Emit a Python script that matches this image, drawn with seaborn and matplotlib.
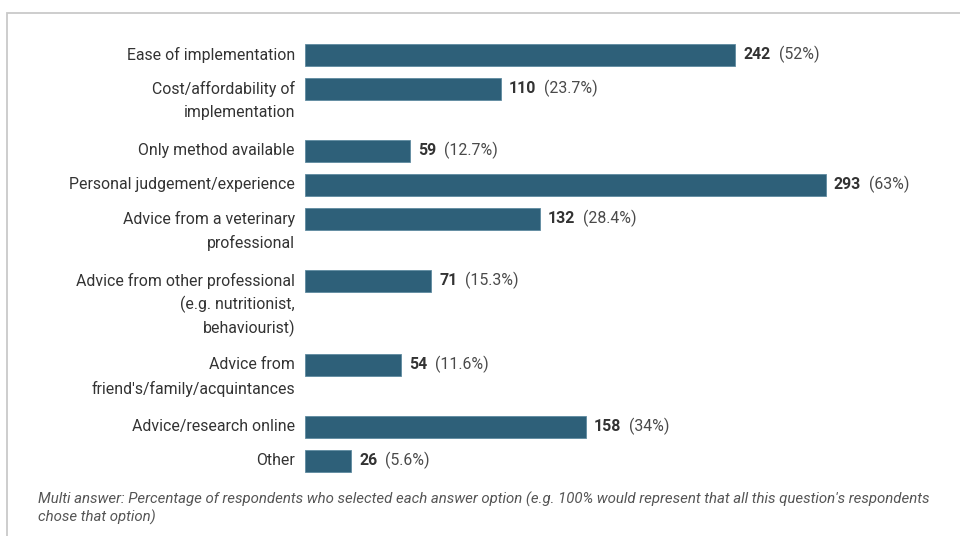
import matplotlib
matplotlib.use("Agg")
import matplotlib.pyplot as plt
from matplotlib.patches import Rectangle
import numpy as np
import seaborn as sns

# Survey answers (multi-answer question)
labels = [
    "Ease of implementation",
    "Cost/affordability of\nimplementation",
    "Only method available",
    "Personal judgement/experience",
    "Advice from a veterinary\nprofessional",
    "Advice from other professional\n(e.g. nutritionist,\nbehaviourist)",
    "Advice from\nfriend's/family/acquintances",
    "Advice/research online",
    "Other",
]
counts = [242, 110, 59, 293, 132, 71, 54, 158, 26]
percents = [52, 23.7, 12.7, 63, 28.4, 15.3, 11.6, 34, 5.6]

footnote = ("Multi answer: Percentage of respondents who selected each answer option "
            "(e.g. 100% would represent that all this question's respondents\n"
            "chose that option)")

BAR_COLOR = "#2e6079"
LABEL_COLOR = "#333333"
PCT_COLOR = "#4a4a4a"
FONT = "Roboto"

sns.set_theme(style="white")
plt.rcParams["font.family"] = [FONT, "DejaVu Sans"]

W, H, DPI = 960, 536, 100
fig = plt.figure(figsize=(W / DPI, H / DPI), dpi=DPI)
fig.patch.set_facecolor("white")

# Card outline
fig.add_artist(Rectangle((7 / W, -0.1), 1.2, (H - 13) / H + 0.1,
                         transform=fig.transFigure, fill=False,
                         edgecolor="#c9c9c9", linewidth=1.3))

# Plot area: vertical coordinates in pixels from the top
bar_left, bar_right = 305, 930
px_per_unit = (826 - 305) / 293
ax = fig.add_axes([bar_left / W, 0, (bar_right - bar_left) / W, 1])

# Row positions depend on how many lines each label wraps onto
row_step = {1: 34, 2: 62, 3: 84}
n_lines = [lab.count("\n") + 1 for lab in labels]
ypos = [54.5]
for n in n_lines[:-1]:
    ypos.append(ypos[-1] + row_step[n])
ypos = np.array(ypos)

bar_px = 22
min_gap = np.min(np.diff(np.sort(ypos)))
sns.barplot(x=counts, y=ypos, orient="h", native_scale=True,
            width=bar_px / min_gap, color=BAR_COLOR, saturation=1,
            edgecolor="#5f8aa0", linewidth=0.6, ax=ax)

ax.set_xlim(0, (bar_right - bar_left) / px_per_unit)
ax.set_ylim(H, 0)
ax.axis("off")

# Category labels, one text per wrapped line
line_px = 24
for lab, y in zip(labels, ypos):
    for i, line in enumerate(lab.split("\n")):
        ax.annotate(line, xy=(0, y + i * line_px), xytext=(-10 * 72 / DPI, 0),
                    textcoords="offset points", ha="right", va="center",
                    fontsize=11.4, color=LABEL_COLOR, annotation_clip=False)

# Value labels: bold count followed by the percentage
fig.canvas.draw()
renderer = fig.canvas.get_renderer()
for c, p, y in zip(counts, percents, ypos):
    t = ax.annotate(f"{c}", xy=(c, y), xytext=(8 * 72 / DPI, 0),
                    textcoords="offset points", ha="left", va="center",
                    fontsize=11.4, fontweight="bold", color=LABEL_COLOR,
                    annotation_clip=False)
    wpx = t.get_window_extent(renderer).width
    ax.annotate(f"({p:g}%)", xy=(c, y), xytext=((8 + wpx + 8) * 72 / DPI, 0),
                textcoords="offset points", ha="left", va="center",
                fontsize=11.4, color=PCT_COLOR, annotation_clip=False)

fig.text(38 / W, 1 - 492 / H, footnote, ha="left", va="top",
         fontsize=10.8, style="italic", color="#555555", linespacing=1.22)

fig.savefig("out.png", dpi=DPI, facecolor="white")
